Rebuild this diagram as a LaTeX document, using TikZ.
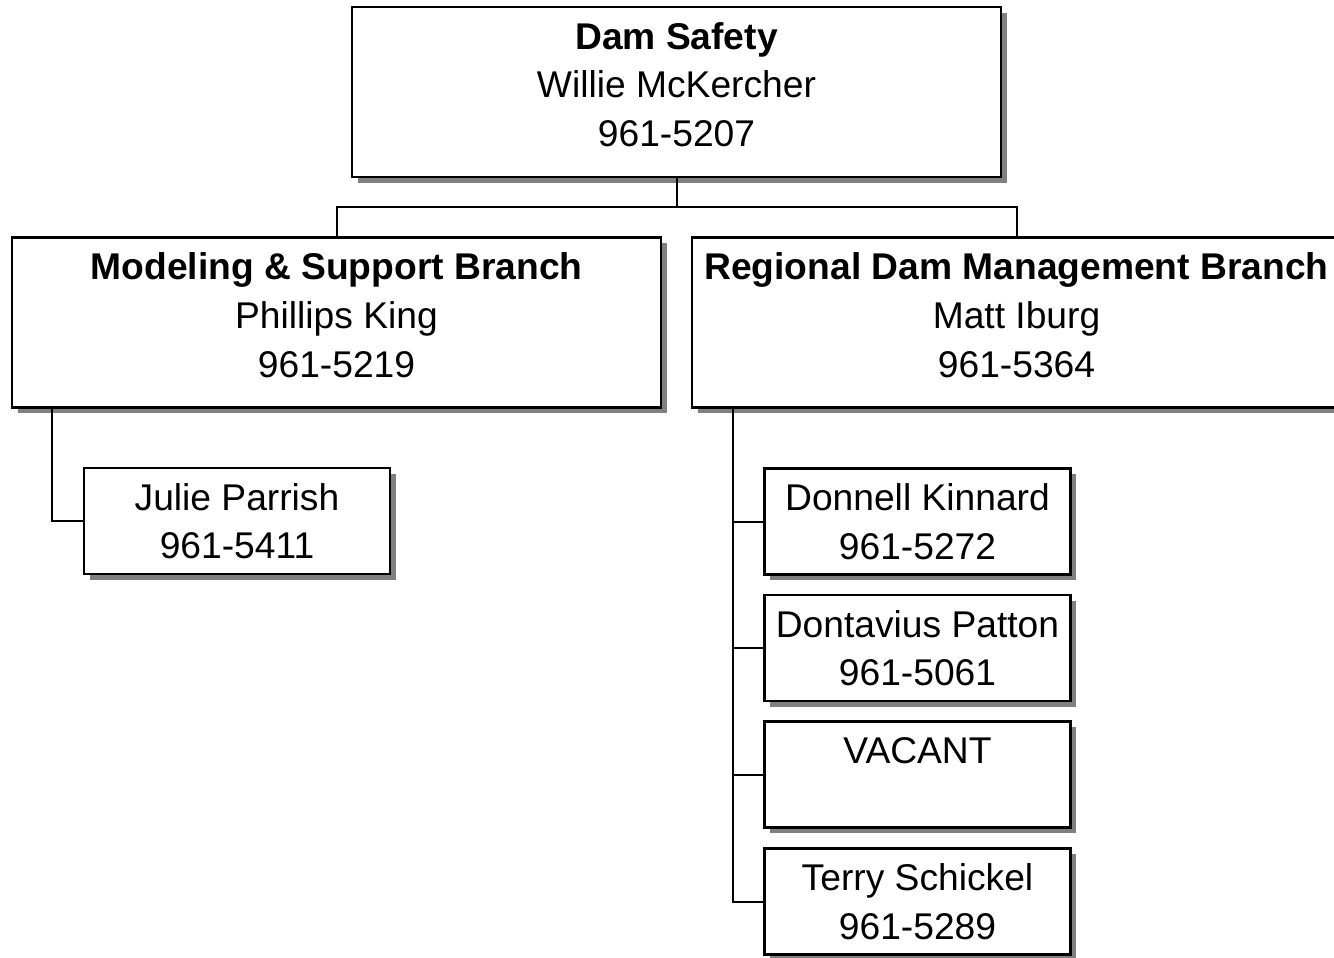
\documentclass[tikz,border=0pt]{standalone}
\usepackage{fontspec}
\setmainfont{Liberation Sans}
\usetikzlibrary{shadows}

\begin{document}
\begin{tikzpicture}[x=0.5pt,y=-0.5pt,
    unit/.style={draw,line width=1.2pt,fill=white,align=center,
      drop shadow={shadow xshift=2.8pt,shadow yshift=-2.8pt,fill=black!50,opacity=1},
      font=\fontsize{18.6}{24.3}\selectfont,inner sep=0pt},
    head/.style={unit,minimum width=324.5pt,minimum height=85pt,text depth=7.5pt},
    staff/.style={unit,minimum width=153pt,minimum height=53pt},
    link/.style={line width=1pt}]
  \useasboundingbox (0,0) rectangle (1334,958);
  \node[head] (dam) at (676.5,92) {\textbf{Dam Safety}\\Willie McKercher\\961-5207};
  \node[head] (model) at (336.5,322.5) {\textbf{Modeling \& Support Branch}\\Phillips King\\961-5219};
  \node[head] (region) at (1016.5,322.5) {\textbf{Regional Dam Management Branch}\\Matt Iburg\\961-5364};
  \node[staff] (julie) at (237,521) {Julie Parrish\\961-5411};
  \node[staff] (donnell) at (917.5,521.5) {Donnell Kinnard\\961-5272};
  \node[staff] (dontavius) at (917.5,648) {Dontavius Patton\\961-5061};
  \node[staff] (vacant) at (917.5,774.5) {VACANT\\\mbox{}};
  \node[staff] (terry) at (917.5,901.5) {Terry Schickel\\961-5289};
  \coordinate (bus) at (676.5,207);
  \draw[link] (dam) -- (bus);
  \draw[link] (bus) -| (model);
  \draw[link] (bus) -| (region);
  \draw[link] ([xshift=20.5pt]model.south west) |- (julie.west);
  \foreach \s in {donnell,dontavius,vacant,terry}
    \draw[link] ([xshift=21pt]region.south west) |- (\s.west);
\end{tikzpicture}
\end{document}
